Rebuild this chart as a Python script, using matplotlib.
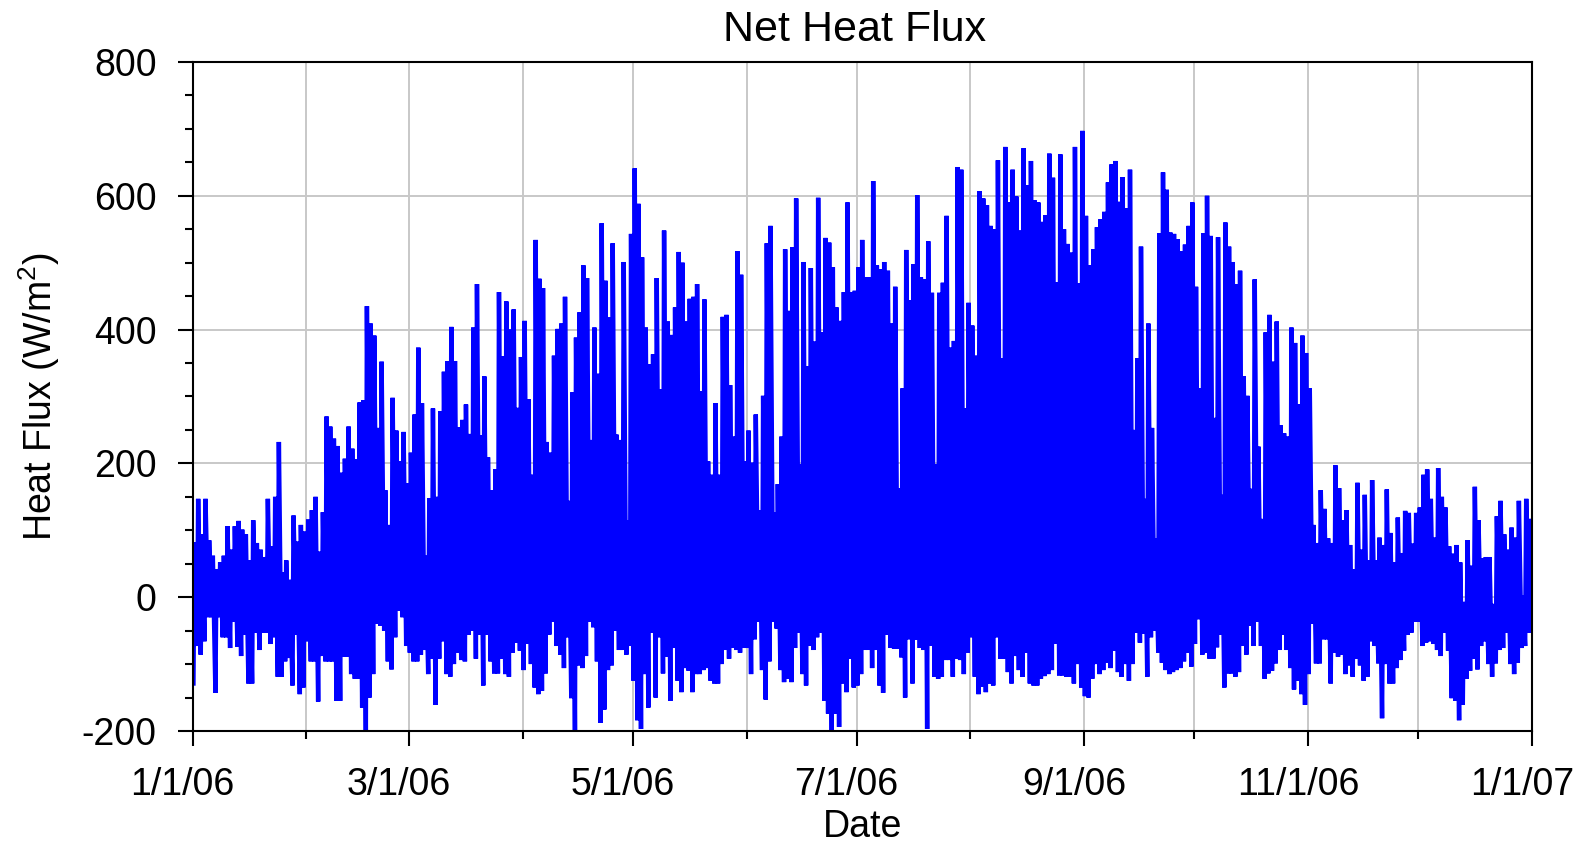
import matplotlib
matplotlib.use('Agg')
import matplotlib.pyplot as plt
import matplotlib.dates as mdates
from matplotlib.ticker import MultipleLocator, FuncFormatter
from matplotlib.transforms import ScaledTranslation
from datetime import datetime, timedelta

plt.rcParams['font.family'] = ['Liberation Sans', 'DejaVu Sans']
plt.rcParams['axes.unicode_minus'] = False
plt.rcParams['mathtext.default'] = 'regular'

# daily maximum / minimum net heat flux (W/m2), 1 Jan .. 31 Dec 2006
daily_max = [
    82, 147, 94, 147, 85, 62, 42, 52, 62, 106, 71, 106, 114, 101, 94, 55, 115, 81, 71, 60,
    147, 76, 150, 232, 37, 55, 26, 122, 83, 108, 98, 116, 130, 150, 68, 127, 270, 255, 237, 226,
    186, 207, 255, 222, 206,
    291, 294, 435, 409, 391, 253, 352, 160, 108, 298, 249, 203, 247, 170, 216, 273, 373, 290, 62, 148,
    282, 150, 278, 337, 353, 404, 353, 254, 265, 288, 244, 403, 468, 242, 330, 209, 160, 191, 456, 360,
    442, 400, 430, 283, 359, 413,
    296, 183, 534, 476, 462, 232, 216, 361, 401, 409, 449, 144, 306, 388, 426, 496, 477, 235, 403, 334,
    559, 473, 418, 529, 243, 235, 501, 115, 543, 641, 588, 508, 403, 348, 363, 477, 311, 548, 412, 392,
    433, 516, 500, 412, 446, 449,
    468, 308, 445, 203, 183, 290, 183, 419, 422, 317, 240, 517, 482, 203, 249, 201, 273, 130, 301, 529,
    555, 127, 169, 240, 520, 428, 523, 596, 199, 501, 345, 492, 382, 597, 396, 537, 530, 493, 433, 413,
    456, 590, 456, 458, 493, 534, 478,
    478, 622, 496, 490, 501, 488, 409, 464, 163, 312, 519, 444, 498, 601, 478, 475, 532, 455, 199, 455,
    470, 570, 373, 383, 643, 639, 282, 440, 406, 361, 607, 596, 586, 555, 550, 653, 357, 673, 590, 639,
    599, 548, 671, 616, 652, 593, 590,
    561, 571, 663, 627, 471, 662, 550, 528, 515, 673, 469, 697, 570, 496, 520, 553, 565, 576, 620, 647,
    652, 591, 628, 581, 639, 250, 357, 524, 147, 409, 253, 88, 544, 635, 609, 545, 543, 535, 517, 527,
    555, 590, 464, 312, 544, 600,
    540, 268, 538, 153, 560, 524, 501, 468, 488, 330, 301, 162, 475, 225, 117, 396, 422, 352, 412, 257,
    245, 240, 403, 380, 288, 391, 365, 312, 108, 81, 160, 132, 88, 81, 197, 163, 115, 130, 78, 42,
    171, 71, 153, 55, 175, 55, 89,
    78, 161, 96, 52, 119, 66, 129, 126, 80, 126, 134, 183, 191, 147, 89, 193, 150, 134, 76, 65,
    78, 52, -7, 85, 47, 165, 115, 58, 60, 60, -10, 121, 144, 94, 71, 104, 89, 144, 3, 147,
    114,
]
daily_min = [
    -129, -73, -86, -66, -30, -30, -143, -30, -60, -60, -76, -37, -74, -88, -56, -129, -129, -53, -79, -53,
    -53, -70, -60, -119, -119, -96, -91, -132, -56, -145, -135, -66, -96, -96, -156, -88, -96, -96, -96, -155,
    -155, -89, -89, -115, -122,
    -122, -165, -200, -150, -115, -40, -43, -50, -96, -108, -60, -20, -30, -73, -83, -96, -96, -86, -79, -115,
    -92, -161, -92, -66, -115, -119, -100, -83, -94, -96, -56, -50, -92, -56, -132, -56, -96, -114, -114, -92,
    -115, -119, -83, -68, -80, -109,
    -70, -100, -135, -145, -140, -114, -56, -37, -73, -86, -106, -60, -151, -200, -102, -106, -88, -37, -45, -96,
    -188, -168, -109, -102, -50, -79, -79, -86, -73, -125, -184, -197, -115, -165, -53, -150, -60, -114, -89, -155,
    -76, -125, -142, -106, -110, -142,
    -115, -115, -109, -106, -125, -129, -129, -100, -79, -92, -76, -79, -83, -76, -76, -115, -63, -37, -109, -153,
    -96, -37, -47, -109, -127, -122, -127, -76, -53, -115, -132, -73, -79, -60, -53, -155, -174, -200, -174, -194,
    -129, -142, -92, -135, -132, -115, -79,
    -79, -106, -79, -132, -143, -56, -76, -77, -77, -90, -150, -63, -129, -64, -76, -79, -197, -73, -119, -122,
    -119, -94, -94, -119, -92, -94, -115, -83, -60, -119, -145, -134, -142, -129, -132, -60, -92, -92, -112, -129,
    -88, -109, -119, -83, -129, -132, -132,
    -122, -118, -115, -109, -70, -117, -117, -119, -119, -129, -100, -135, -148, -150, -122, -100, -115, -109, -98, -106,
    -80, -112, -119, -100, -125, -100, -53, -68, -55, -119, -60, -50, -83, -98, -109, -115, -112, -109, -106, -96,
    -83, -104, -70, -33, -86, -83,
    -92, -92, -75, -56, -135, -114, -114, -119, -112, -73, -86, -43, -73, -37, -73, -122, -114, -110, -99, -79,
    -56, -79, -106, -138, -125, -145, -161, -115, -40, -99, -99, -63, -63, -129, -83, -89, -86, -115, -102, -119,
    -92, -102, -125, -119, -66, -73, -99,
    -181, -100, -129, -129, -106, -94, -80, -56, -53, -37, -37, -73, -68, -66, -70, -79, -88, -53, -80, -151,
    -155, -184, -161, -122, -110, -92, -108, -73, -66, -100, -119, -99, -79, -76, -53, -100, -115, -98, -76, -73,
    -53,
]

start = datetime(2006, 1, 1)
end = datetime(2007, 1, 1)

# night-time minimum early morning, daytime maximum around noon
times, flux = [], []
for i, (lo, hi) in enumerate(zip(daily_min, daily_max)):
    day = start + timedelta(days=i)
    times += [day + timedelta(hours=5), day + timedelta(hours=12)]
    flux += [lo, hi]

fig = plt.figure(figsize=(15.83, 8.43), dpi=100)
ax = fig.add_axes([0.1217, 0.1329, 0.8459, 0.7936])

ax.plot(times, flux, color='#0000ff', lw=3.2, solid_joinstyle='bevel')

ax.set_xlim(start, end)
ax.set_ylim(-200, 800)
ax.xaxis.set_major_locator(mdates.MonthLocator(bymonth=[1, 3, 5, 7, 9, 11]))
ax.xaxis.set_minor_locator(mdates.MonthLocator())
ax.xaxis.set_major_formatter(FuncFormatter(
    lambda x, pos: '{0.month}/{0.day}/{1}'.format(mdates.num2date(x), mdates.num2date(x).strftime('%y'))))
ax.yaxis.set_major_locator(MultipleLocator(200))
ax.yaxis.set_minor_locator(MultipleLocator(50))

ax.set_axisbelow(True)
ax.grid(True, which='both', axis='x', color='#c8c8c8', lw=1.4)
ax.grid(True, which='major', axis='y', color='#c8c8c8', lw=1.4)

ax.tick_params(which='major', direction='out', length=11, width=1.5, labelsize=27, pad=15)
ax.tick_params(which='minor', direction='out', length=5.5, width=1.5)
for s in ax.spines.values():
    s.set_linewidth(1.5)

# date labels sit slightly left of their ticks in the original
shift = ScaledTranslation(-0.10, 0, fig.dpi_scale_trans)
for tk in ax.xaxis.get_major_ticks():
    tk.label1.set_transform(tk.label1.get_transform() + shift)

ax.set_title('Net Heat Flux', fontsize=31, pad=15, x=0.494)
ax.set_xlabel('Date', fontsize=27, labelpad=4)
ax.set_ylabel('Heat Flux (W/m$^2$)', fontsize=27, labelpad=14)

fig.savefig('out.png', dpi=100)
